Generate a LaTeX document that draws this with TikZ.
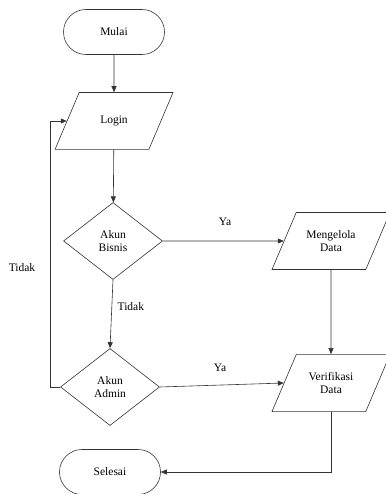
\documentclass[tikz,border=0pt]{standalone}
\usepackage{fontspec}
\setmainfont{Liberation Serif}
\usetikzlibrary{shapes,arrows.meta}

\tikzset{
    terminal/.style={draw, rounded rectangle, minimum width=101pt, minimum height=45pt, inner sep=0pt},
    io/.style={draw, trapezium, trapezium left angle=67, trapezium right angle=113,
        trapezium stretches body, minimum width=118pt, inner xsep=0pt, inner ysep=#1, align=center},
    io/.default=17.7pt,
    decision/.style={draw, diamond, minimum width=99pt, minimum height=77pt, inner sep=0pt, align=center},
    arr/.style={-{Triangle[length=6pt,width=5pt]}},
}

\begin{document}
\begin{tikzpicture}[x=1pt, y=-1pt, line width=0.6pt, draw=black!80,
    font=\fontsize{11.5}{13.5}\selectfont]
    \useasboundingbox (0,0) rectangle (385,494);
    \node[terminal] (mulai) at (114,32) {Mulai};
    \node[io=23.4pt] (login) at (114,121) {Login};
    \node[decision] (bisnis) at (113,241) {Akun\\Bisnis};
    \node[io] (kelola) at (331,241) {Mengelola\\Data};
    \node[decision] (admin) at (110,387) {Akun\\Admin};
    \node[io] (verif) at (331,383) {Verifikasi\\Data};
    \node[terminal] (selesai) at (110,472) {Selesai};
    \coordinate (belok) at (50,387);

    \draw[arr] (mulai) -- (login);
    \draw[arr] (login) -- (bisnis);
    \draw[arr] (bisnis.east) -- (kelola.west);
    \draw[arr] (bisnis.south) -- (admin.north);
    \draw[arr] (admin.east) -- (verif.west);
    \draw[arr] (kelola.south) -- (verif.north);
    \draw[arr] (verif.south) |- (selesai.east);
    \draw[arr] (admin.west) -- (belok) |- (login.west);

    \node at (225,222) {Ya};
    \node at (220,368) {Ya};
    \node[anchor=west] at (114,307) {Tidak};
    \node at (22,268) {Tidak};
\end{tikzpicture}
\end{document}
